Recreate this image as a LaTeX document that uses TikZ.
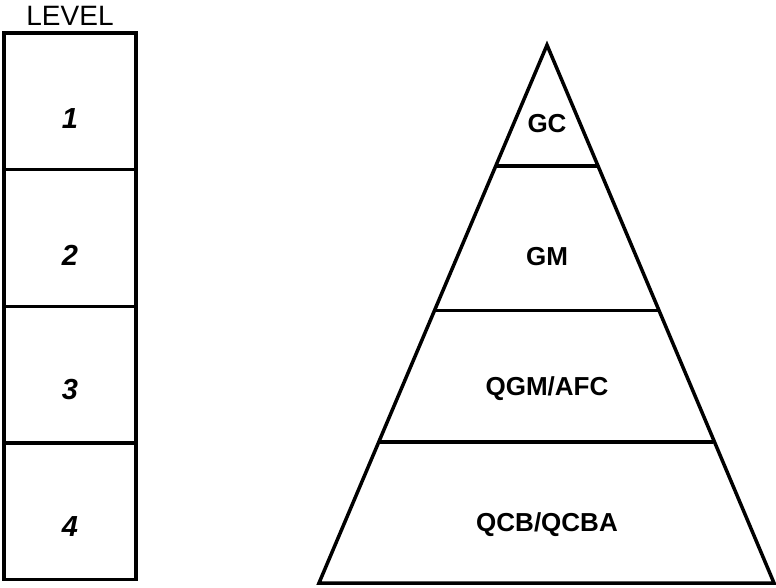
\documentclass[tikz,border=0pt]{standalone}
\usepackage{fontspec}
\setmainfont{Liberation Sans}
\begin{document}
\begin{tikzpicture}[x=1pt,y=-1pt,
  levelbox/.style={draw,line width=3.5pt,minimum width=132pt,minimum height=136.5pt,inner sep=0pt},
  levelnum/.style={inner sep=0pt,font=\fontsize{29}{34}\selectfont\bfseries\itshape},
  tier/.style={inner sep=0pt,font=\fontsize{26}{31}\selectfont\bfseries},
  edge/.style={line width=3.5pt,line join=miter}]
\useasboundingbox (0,0) rectangle (776,588);
\node[font=\fontsize{28}{33}\selectfont] (lvl) at (70,16) {LEVEL};
\node[levelbox] (b1) at (70,101.5) {};
\node[levelbox] (b2) at (70,238) {};
\node[levelbox] (b3) at (70,374.5) {};
\node[levelbox] (b4) at (70,511) {};
\node[levelnum] (n1) at (70,118.5) {1};
\node[levelnum] (n2) at (70,255) {2};
\node[levelnum] (n3) at (70,390) {3};
\node[levelnum] (n4) at (70,527) {4};
\coordinate (apex) at (547,45);
\coordinate (bl) at (319,583);
\coordinate (br) at (774,583);
\draw[edge] (apex) -- (bl) -- (br) -- cycle;
\draw[edge] (496,166) -- (597,166);
\draw[edge] (434,310.5) -- (659,310.5);
\draw[edge] (380,442) -- (713,442);
\node[tier] (gc) at (547,124) {GC};
\node[tier] (gm) at (547,257) {GM};
\node[tier] (qgm) at (547,389) {QGM/AFC};
\node[tier] (qcb) at (547,525) {QCB/QCBA};
\end{tikzpicture}
\end{document}
